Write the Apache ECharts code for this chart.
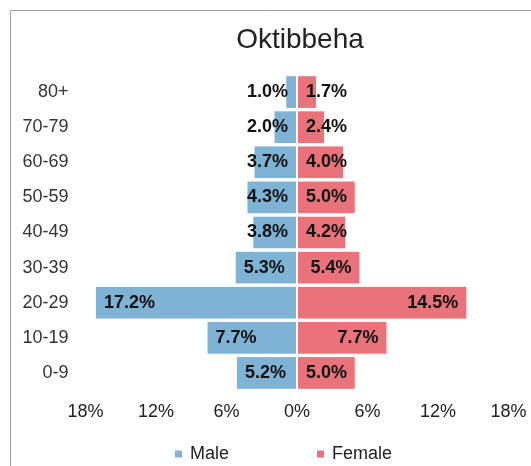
<!DOCTYPE html>
<html>

<head>
  <meta charset="utf-8">
  <title>Oktibbeha</title>
  <script src="https://cdn.jsdelivr.net/npm/echarts@6/dist/echarts.min.js"></script>
</head>

<body style="margin:0">
  <div id="main" style="width:531px;height:466px;"></div>
  <script type="text/javascript">
    var myChart = echarts.init(document.getElementById('main'));

    var ageGroups = ['0-9', '10-19', '20-29', '30-39', '40-49', '50-59', '60-69', '70-79', '80+'];
    var male = [5.2, 7.7, 17.2, 5.3, 3.8, 4.3, 3.7, 2.0, 1.0];
    var female = [5.0, 7.7, 14.5, 5.4, 4.2, 5.0, 4.0, 2.4, 1.7];
    var ticks = [-18, -12, -6, 0, 6, 12, 18];

    var font = 'Liberation Sans, Arial, sans-serif';

    // labels sit at the bar's outer end, unless the bar is too short
    function makeData(values, sign) {
      return values.map(function (v) {
        var wide = v >= 5.2;
        var pos;
        if (sign < 0) pos = wide ? 'insideLeft' : 'insideRight';
        else pos = wide ? 'insideRight' : 'insideLeft';
        return { value: sign * v, label: { position: pos } };
      });
    }

    var labelStyle = {
      show: true,
      distance: 9,
      color: '#111',
      fontFamily: font,
      fontWeight: 'bold',
      fontSize: 18,
      padding: [3, 0, 0, 0],
      formatter: function (p) {
        return Math.abs(p.value).toFixed(1) + '%';
      }
    };

    var option = {
      animation: false,
      title: {
        text: 'Oktibbeha',
        left: 295,
        textAlign: 'center',
        top: 21,
        textStyle: { fontFamily: font, fontWeight: 'normal', fontSize: 28, color: '#222' }
      },
      graphic: [{
        type: 'rect',
        shape: { x: 10.5, y: 10.5, width: 600, height: 600 },
        style: { fill: 'none', stroke: '#a0a0a0', lineWidth: 1 }
      }],
      legend: {
        top: 440,
        left: 168,
        itemWidth: 9,
        itemHeight: 9,
        itemGap: 86,
        icon: 'rect',
        textStyle: { fontFamily: font, fontSize: 18, color: '#222', padding: [0, 0, 0, 2] },
        data: ['Male', 'Female']
      },
      grid: { left: 85.5, right: 22.5, top: 74.5, bottom: 75.5, containLabel: false },
      xAxis: {
        type: 'value',
        min: ticks[0],
        max: ticks[ticks.length - 1],
        interval: 6,
        axisLine: { show: false },
        axisTick: { show: false },
        splitLine: { show: false },
        axisLabel: {
          margin: 13,
          fontFamily: font,
          fontSize: 18,
          color: '#222',
          formatter: function (v) { return Math.abs(v) + '%'; }
        }
      },
      yAxis: {
        type: 'category',
        data: ageGroups,
        axisLine: { show: false },
        axisTick: { show: false },
        axisLabel: { margin: 17, fontFamily: font, fontSize: 18, color: '#333' }
      },
      series: [
        {
          name: 'Male',
          type: 'bar',
          stack: 'pop',
          barCategoryGap: '4%',
          itemStyle: { color: '#7eb3d6', borderColor: '#fff', borderWidth: 1 },
          label: labelStyle,
          data: makeData(male, -1)
        },
        {
          name: 'Female',
          type: 'bar',
          stack: 'pop',
          barCategoryGap: '4%',
          itemStyle: { color: '#e8737a', borderColor: '#fff', borderWidth: 1 },
          label: labelStyle,
          data: makeData(female, 1)
        }
      ]
    };

    myChart.setOption(option);
  </script>
</body>

</html>
